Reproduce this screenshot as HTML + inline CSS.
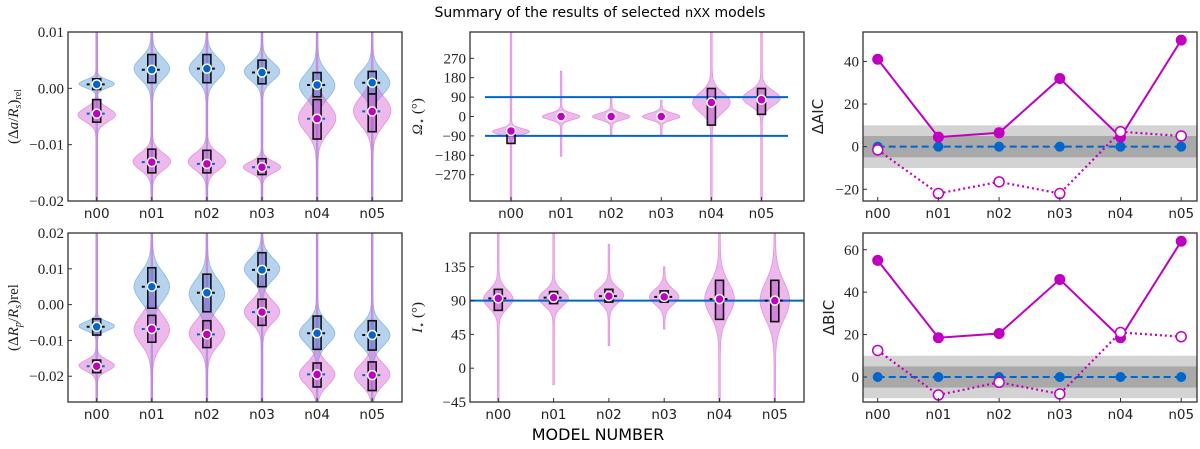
<!DOCTYPE html>
<html><head><meta charset="utf-8"><style>
body{margin:0;background:#fff;}
svg text{font-family:"Liberation Serif",serif;}
.sans{font-family:"DejaVu Sans","Liberation Sans",sans-serif;}
</style></head><body>
<svg id="fig" width="1200" height="444" xmlns="http://www.w3.org/2000/svg">
<text x="600" y="17" text-anchor="middle" class="sans" font-size="14">Summary of the results of selected <tspan font-family="Liberation Mono,monospace">nXX</tspan> models</text>
<text x="598" y="440" text-anchor="middle" class="sans" font-size="16">MODEL NUMBER</text>
</svg>
<script>
const models = ["n00","n01","n02","n03","n04","n05"];
// Δa panel
const daBlueC = [0.0008,0.0035,0.0035,0.003,0.0005,0.001];
const daBlueS = [0.0007,0.0019,0.0019,0.0016,0.0022,0.002];
const daBlueLo = [-0.0002,0.001,0.001,0.0008,-0.0015,-0.001];
const daBlueHi = [0.0017,0.006,0.006,0.005,0.0028,0.003];
const daBlueDot = [0.0007,0.0033,0.0035,0.0028,0.0006,0.001];
const daPinkC = [-0.0047,-0.013,-0.013,-0.014,-0.0053,-0.004];
const daPinkS = [0.0012,0.0015,0.0015,0.001,0.0025,0.0025];
const daPinkLo = [-0.006,-0.015,-0.015,-0.0153,-0.009,-0.0077];
const daPinkHi = [-0.002,-0.0108,-0.011,-0.0125,-0.002,-0.001];
const daPinkDot = [-0.0045,-0.0131,-0.0134,-0.014,-0.0054,-0.0041];
// ΔRp panel
const rpBlueC = [-0.006,0.005,0.003,0.01,-0.008,-0.0085];
const rpBlueS = [0.0012,0.004,0.004,0.003,0.003,0.003];
const rpBlueLo = [-0.0085,-0.001,-0.002,0.005,-0.0125,-0.0127];
const rpBlueHi = [-0.004,0.0103,0.0085,0.0145,-0.0032,-0.0045];
const rpBlueDot = [-0.0062,0.005,0.0033,0.0097,-0.008,-0.0085];
const rpPinkC = [-0.017,-0.007,-0.008,-0.002,-0.0195,-0.0195];
const rpPinkS = [0.0015,0.004,0.0035,0.003,0.003,0.003];
const rpPinkLo = [-0.019,-0.0105,-0.012,-0.0058,-0.023,-0.024];
const rpPinkHi = [-0.0155,-0.003,-0.0045,0.0015,-0.0163,-0.016];
const rpPinkDot = [-0.0172,-0.0068,-0.0083,-0.0021,-0.0195,-0.0197];
// Ω panel
const omC = [-70,0,0,0,65,85];
const omS = [14,15,15,15,45,35];
const omLo = [-125,-6,-6,-6,-40,10];
const omHi = [-85,6,6,6,130,130];
const omDot = [-67,0,0,0,65,78];
const omTailLo = [-392,-185,-85,-90,-392,-392];
const omTailHi = [392,210,85,75,392,392];
// I panel
const incC = [92,93,97,95,92,90];
const incS = [12,10,10,10,22,25];
const incLo = [77,86,88,88,65,62];
const incHi = [105,102,105,103,117,117];
const incDot = [93,94,96,95,92,90];
const incTailLo = [-45,-22,30,52,-45,-45];
const incTailHi = [180,180,165,135,180,180];
// AIC / BIC
const aicSolid = [41,4.5,6.5,32,4.5,50];
const aicOpen = [-1.5,-22,-16.5,-22,7,5];
const bicSolid = [55,18.5,20.5,46,18.5,64];
const bicOpen = [12.5,-8.5,-2.5,-8,21,19];
const refZero = [0,0,0,0,0,0];

const NS="http://www.w3.org/2000/svg";
const svg=document.getElementById('fig');
function el(tag,attrs,parent){const e=document.createElementNS(NS,tag);for(const k in attrs)e.setAttribute(k,attrs[k]);(parent||svg).appendChild(e);return e;}

function makePanel(name,x0,x1,y0,y1,xs,step,ymin,ymax){
  const g=el('g',{});
  
  
  return {g,x0,x1,y0,y1,X:i=>xs+i*step,Y:v=>y1-(v-ymin)/(ymax-ymin)*(y1-y0)};
}
function frame(p){
  const cl=el('clipPath',{id:'c'+p.x0+p.y0},p.g);
  el('rect',{x:p.x0,y:p.y0,width:p.x1-p.x0,height:p.y1-p.y0},cl);
  p.inner=el('g',{'clip-path':'url(#c'+p.x0+p.y0+')'},p.g);
  return p;
}
function axes(p,yticks,ylabels,ylab,ylabX,ylabSans){
  const b=el('rect',{x:p.x0,y:p.y0,width:p.x1-p.x0,height:p.y1-p.y0,fill:'none',stroke:'#333','stroke-width':1.3},p.g);
  
  
  models.forEach((m,i)=>{
    const x=p.X(i);
    el('line',{x1:x,x2:x,y1:p.y1,y2:p.y1-4,stroke:'#333'},p.g);
    const t=el('text',{x:x,y:p.y1+17,'text-anchor':'middle','font-size':13.5,class:'sans',fill:'#222'},p.g);
    t.textContent=m;
    
    
  });
  yticks.forEach((v,i)=>{
    const y=p.Y(v);
    el('line',{x1:p.x0,x2:p.x0+4,y1:y,y2:y,stroke:'#333'},p.g);
    const t=el('text',{x:p.x0-4,y:y+5,'text-anchor':'end','font-size':15,fill:'#222'},p.g);
    t.textContent=ylabels[i];
    
    
  });
  const cy=(p.y0+p.y1)/2;
  const t=el('text',{x:ylabX,y:cy,'text-anchor':'middle','font-size':15,transform:`rotate(-90 ${ylabX} ${cy})`,fill:'#222'},p.g);
  if(ylabSans)t.setAttribute('class','sans');
  t.innerHTML=ylab;
  
  
}
function violin(p,i,c,s,hw,tlo,thi,fill,stroke){
  const x=p.X(i);let L=[],R=[];
  const n=140;
  for(let k=0;k<=n;k++){
    const v=thi-(thi-tlo)*k/n;
    const w=hw*Math.exp(-0.5*((v-c)/s)**2)+0.8;
    const y=p.Y(v);
    R.push([x+w,y]);L.unshift([x-w,y]);
  }
  const pts=R.concat(L).map(a=>a[0].toFixed(1)+','+a[1].toFixed(1)).join(' ');
  const v=el('polygon',{points:pts,fill:fill,stroke:stroke,'stroke-width':0.8},p.inner);
  
  
}
function box(p,i,lo,hi,dot,dotCol,dashCol,fill){
  const x=p.X(i);
  const r=el('rect',{x:x-4,y:p.Y(hi),width:8,height:Math.max(1,p.Y(lo)-p.Y(hi)),fill:fill,stroke:'#111','stroke-width':1.6},p.inner);
  
  
  const y=p.Y(dot);
  el('line',{x1:x-10,x2:x+10,y1:y,y2:y,stroke:dashCol,'stroke-width':2,'stroke-dasharray':'3,2'},p.inner);
  const d=el('circle',{cx:x,cy:y,r:4.5,fill:dotCol,stroke:'#fff','stroke-width':1.5},p.inner);
  
  
}
const BF='rgba(110,165,220,0.5)',BS='rgba(110,165,220,0.7)',PF='rgba(215,100,215,0.45)',PS='rgba(215,100,215,0.6)';
const MAG='#c000c0',BLU='#0066cc';

// Panel 1
let p=frame(makePanel('delta-a-panel',68,402,32,201,96.7,55.1,-0.02,0.01));
models.forEach((m,i)=>{violin(p,i,daBlueC[i],daBlueS[i],17,-0.02,0.01,BF,BS);});
models.forEach((m,i)=>{violin(p,i,daPinkC[i],daPinkS[i],18,-0.02,0.01,PF,PS);});
models.forEach((m,i)=>{box(p,i,daBlueLo[i],daBlueHi[i],daBlueDot[i],BLU,'#111','rgba(90,110,200,0.5)');box(p,i,daPinkLo[i],daPinkHi[i],daPinkDot[i],MAG,BLU,'rgba(180,80,200,0.5)');});
axes(p,[0.01,0,-0.01,-0.02],['0.01','0.00','−0.01','−0.02'],'(Δ<tspan font-style="italic">a</tspan>/<tspan font-style="italic">R<tspan font-size="10" dy="3">s</tspan></tspan><tspan dy="-3">)</tspan><tspan font-size="10" dy="3">rel</tspan>',18,false);

// Panel 4
p=frame(makePanel('delta-rp-panel',68,402,233,402,96.7,55.1,-0.0272,0.02));
models.forEach((m,i)=>{violin(p,i,rpBlueC[i],rpBlueS[i],17,-0.0272,0.02,BF,BS);});
models.forEach((m,i)=>{violin(p,i,rpPinkC[i],rpPinkS[i],17,-0.0272,0.02,PF,PS);});
models.forEach((m,i)=>{box(p,i,rpBlueLo[i],rpBlueHi[i],rpBlueDot[i],BLU,'#111','rgba(90,110,200,0.5)');box(p,i,rpPinkLo[i],rpPinkHi[i],rpPinkDot[i],MAG,BLU,'rgba(180,80,200,0.5)');});
axes(p,[0.02,0.01,0,-0.01,-0.02],['0.02','0.01','0.00','−0.01','−0.02'],'(Δ<tspan font-style="italic">R<tspan font-size="10" dy="3">p</tspan></tspan><tspan dy="-3">/</tspan><tspan font-style="italic">R<tspan font-size="10" dy="3">s</tspan></tspan><tspan dy="-3">)rel</tspan>',18,false);

// Panel 2
p=frame(makePanel('omega-panel',470,804,32,201,511,50.1,-392,392));
models.forEach((m,i)=>{violin(p,i,omC[i],omS[i],18,omTailLo[i],omTailHi[i],PF,PS);});
[90,-90].forEach(v=>{const l=el('line',{x1:485,x2:788,y1:p.Y(v),y2:p.Y(v),stroke:BLU,'stroke-width':2},p.inner);});
models.forEach((m,i)=>{box(p,i,omLo[i],omHi[i],omDot[i],MAG,'none','rgba(180,80,200,0.5)');});
axes(p,[270,180,90,0,-90,-180,-270],['270','180','90','0','−90','−180','−270'],'<tspan font-style="italic">Ω</tspan><tspan font-size="10" dy="3">⋆</tspan><tspan dy="-3"> (°)</tspan>',422,false);

// Panel 5
p=frame(makePanel('inclination-panel',470,804,233,402,498.3,55.3,-45,180));
models.forEach((m,i)=>{violin(p,i,incC[i],incS[i],14,incTailLo[i],incTailHi[i],PF,PS);});
{const l=el('line',{x1:470,x2:804,y1:p.Y(90),y2:p.Y(90),stroke:BLU,'stroke-width':2},p.inner);}
models.forEach((m,i)=>{box(p,i,incLo[i],incHi[i],incDot[i],MAG,'#111','rgba(180,80,200,0.5)');});
axes(p,[135,90,45,0,-45],['135','90','45','0','−45'],'<tspan font-style="italic">I</tspan><tspan font-size="10" dy="3">⋆</tspan><tspan dy="-3"> (°)</tspan>',422,false);

function icPanel(p,solid,open){
  el('rect',{x:p.x0,y:p.Y(10),width:p.x1-p.x0,height:p.Y(-10)-p.Y(10),fill:'#d3d3d3'},p.inner);
  el('rect',{x:p.x0,y:p.Y(5),width:p.x1-p.x0,height:p.Y(-5)-p.Y(5),fill:'#a9a9a9'},p.inner);
  const line=(arr,col,dash,w)=>el('polyline',{points:arr.map((v,i)=>p.X(i)+','+p.Y(v)).join(' '),fill:'none',stroke:col,'stroke-width':w,'stroke-dasharray':dash},p.inner);
  const lz=line(refZero,BLU,'7,4',2);
  const ls=line(solid,MAG,'none',2);
  const lo=line(open,MAG,'2,3',2.2);
  refZero.forEach((v,i)=>{const c=el('circle',{cx:p.X(i),cy:p.Y(v),r:5,fill:BLU},p.inner);});
  solid.forEach((v,i)=>{const c=el('circle',{cx:p.X(i),cy:p.Y(v),r:5.5,fill:MAG},p.inner);});
  open.forEach((v,i)=>{const c=el('circle',{cx:p.X(i),cy:p.Y(v),r:5,fill:'#fff',stroke:MAG,'stroke-width':1.5},p.inner);});
}
p=frame(makePanel('delta-aic-panel',863,1197,32,201,877.7,60.7,-25.5,53.8));
icPanel(p,aicSolid,aicOpen);
axes(p,[40,20,0,-20],['40','20','0','−20'],'ΔAIC',823,true);
p=frame(makePanel('delta-bic-panel',863,1197,233,402,877.7,60.7,-11.8,67.9));
icPanel(p,bicSolid,bicOpen);
axes(p,[60,40,20,0],['60','40','20','0'],'ΔBIC',834,true);
</script>
</body></html>
